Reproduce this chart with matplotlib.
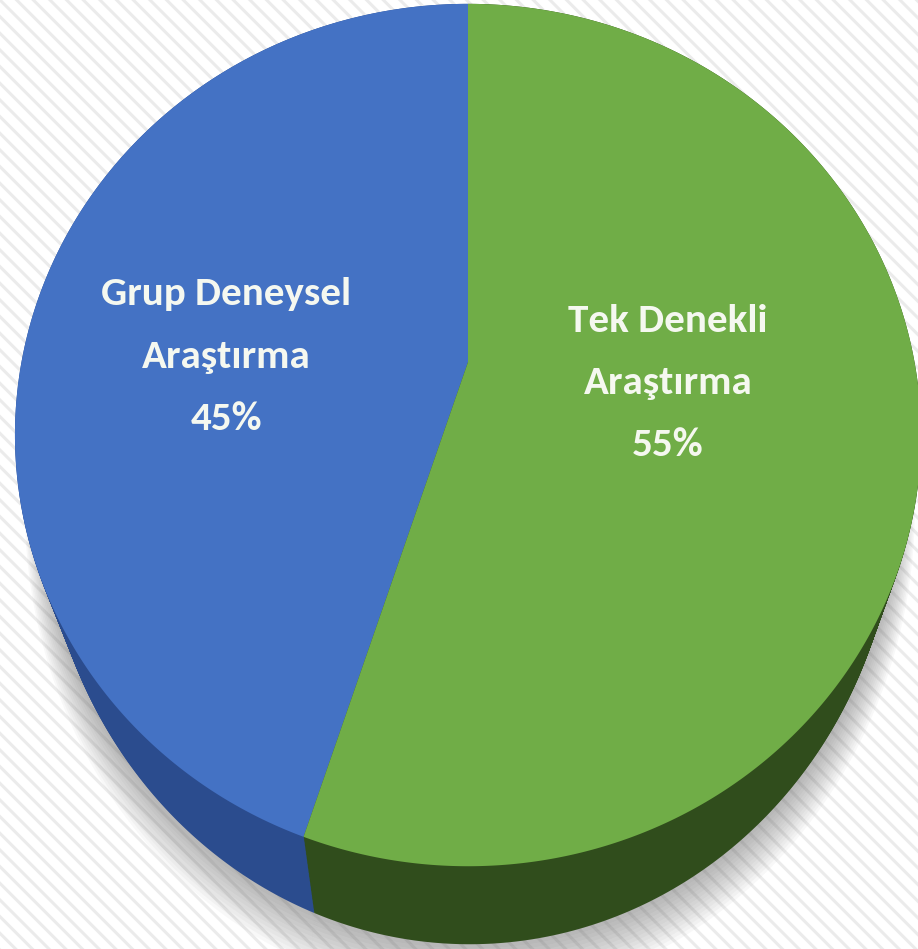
import numpy as np
import matplotlib
matplotlib.use("Agg")
import matplotlib.pyplot as plt
from matplotlib.transforms import Transform
from matplotlib.path import Path
from matplotlib.patches import Rectangle
from matplotlib import font_manager

# ---- data ----
categories = ["Grup Deneysel\nAraştırma", "Tek Denekli\nAraştırma"]
values = [45, 55]
top_colors = ["#4472C4", "#70AD47"]
side_colors = ["#2B4C8E", "#304D1C"]

W, H = 918, 949

# ---- perspective geometry (layout) ----
CX, CY = 468.0, 362.0
R, C, K = 446.5, 0.938, 0.1694
FRONT_DEPTH = 78.0      # side height at the nearest point (px)
SHRINK = 0.055          # horizontal convergence of the bottom face
VX = 495.0              # x of the convergence point
P_EXP = 2.5
S_NEAR = 1.0 / (1.0 - K)


class Persp(Transform):
    input_dims = 2
    output_dims = 2
    is_separable = False
    has_inverse = False

    def __init__(self, f=0.0, scale=1.0):
        super().__init__()
        self.f = f
        self.scale = scale

    def transform_non_affine(self, xy):
        xy = np.asarray(xy, float)
        single = xy.ndim == 1
        xy = np.atleast_2d(xy)
        px = xy[:, 0] * self.scale
        py = xy[:, 1] * self.scale
        s = 1.0 / (1.0 + K * py)
        X = CX + R * px * s
        Y = CY - R * C * py * s
        X = VX + (X - VX) * (1.0 - SHRINK * self.f)
        Y = Y + FRONT_DEPTH * self.f * (s / S_NEAR) ** P_EXP
        out = np.column_stack([X, Y])
        return out[0] if single else out

    def transform_path_non_affine(self, path):
        pts = []
        for bez, code in path.iter_bezier():
            if code == Path.MOVETO:
                pts.append(np.atleast_2d(bez.control_points[0]))
            else:
                t = np.linspace(0, 1, 60)[1:]
                pts.append(np.atleast_2d(bez(t)))
        verts = np.concatenate(pts)
        verts = np.vstack([verts, verts[:1]])
        return Path(self.transform_non_affine(verts), closed=True)


# font choice
avail = {f.name for f in font_manager.fontManager.ttflist}
font = "DejaVu Sans"
for cand in ["Carlito", "Liberation Sans Narrow", "Lato", "Open Sans"]:
    if cand in avail:
        font = cand
        break
plt.rcParams["hatch.linewidth"] = 2.2

fig = plt.figure(figsize=(W / 100, H / 100), dpi=100)
ax = fig.add_axes([0, 0, 1, 1])

# background with diagonal stripes
ax.add_patch(Rectangle((0, 0), W, H, facecolor="white", edgecolor="#ebebeb",
                       hatch="\\\\", linewidth=0, zorder=0))


def draw_pie(colors, f, scale=1.0, alpha=1.0, z=1):
    wedges, _ = ax.pie(values, colors=colors, startangle=90, counterclock=True,
                       wedgeprops=dict(linewidth=0, alpha=alpha))
    for w in wedges:
        w.set_transform(Persp(f=f, scale=scale) + ax.transData)
        w.set_zorder(z)
    return wedges


# soft shadow
for i in range(14):
    draw_pie(["#5a5a5a", "#5a5a5a"], 1.0 + 0.018 * i, scale=1.0 + 0.004 * i,
             alpha=0.04, z=1)

# side (extrusion)
n_layers = 60
for i in range(n_layers):
    f = 1.0 - i / (n_layers - 1)
    draw_pie(side_colors, f, z=2)

# top face
draw_pie(top_colors, 0.0, z=3)

ax.set_xlim(0, W)
ax.set_ylim(H, 0)
ax.set_aspect("auto")
ax.axis("off")

# labels
label_x = [226, 668]
label_baselines = [[305, 368, 430], [332, 394, 456]]
for cat, v, x, ys in zip(categories, values, label_x, label_baselines):
    lines = cat.split("\n") + [f"{v}%"]
    for line, y in zip(lines, ys):
        ax.text(x, y, line, ha="center", va="baseline", color="#F5F8F0",
                fontsize=29.5, fontweight="bold", family=font, zorder=5)

fig.savefig("out.png", dpi=100)
